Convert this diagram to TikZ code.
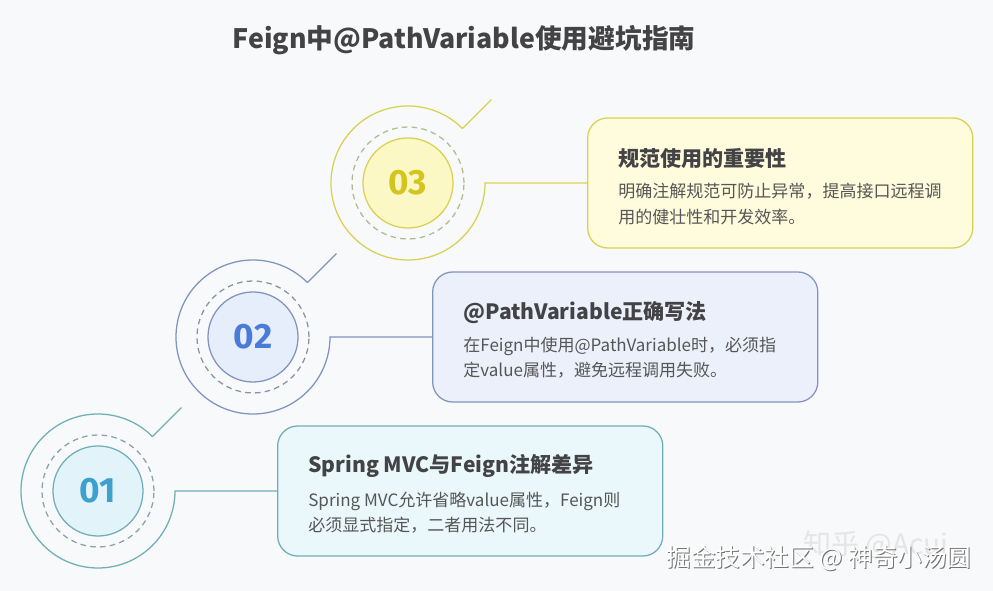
\documentclass[tikz,border=0pt]{standalone}
\usepackage{fontspec}
\setmainfont{Noto Sans CJK SC}
\newfontfamily\digitfont{Fira Sans}
\usetikzlibrary{positioning}

\definecolor{pagebg}{HTML}{F8F9FB}
\definecolor{titlegray}{HTML}{434345}
\definecolor{textgray}{HTML}{565656}
\definecolor{ylwline}{HTML}{D8D250}
\definecolor{ylwfill}{HTML}{FEFCDC}
\definecolor{ylwdisc}{HTML}{FCF8C6}
\definecolor{ylwnum}{HTML}{D3C51E}
\definecolor{ylwdash}{HTML}{B6B98E}
\definecolor{bluline}{HTML}{8095BE}
\definecolor{blufill}{HTML}{EBF0FB}
\definecolor{bludisc}{HTML}{E6EDFB}
\definecolor{blunum}{HTML}{4A7BD8}
\definecolor{bludash}{HTML}{8A93A3}
\definecolor{tealline}{HTML}{70AFB6}
\definecolor{tealfill}{HTML}{EAF7FB}
\definecolor{tealdisc}{HTML}{E3F3FA}
\definecolor{tealnum}{HTML}{3EA0CF}
\definecolor{tealdash}{HTML}{8AA3A8}

\tikzset{
  ring/.style={draw=#1line, line width=0.9pt},
  dashring/.style={draw=#1dash, line width=0.9pt, dash pattern=on 4pt off 3pt},
  disc/.style={circle, draw=#1line, fill=#1disc, line width=0.9pt,
    minimum size=2.25cm, inner sep=0pt, text=#1num,
    font=\digitfont\bfseries\fontsize{25}{25}\selectfont},
  infobox/.style={draw=#1line, fill=#1fill, line width=0.9pt,
    rounded corners=0.5cm, minimum width=9.625cm, minimum height=3.25cm},
  boxtitle/.style={inner sep=0pt, text=titlegray,
    font=\bfseries\fontsize{15}{18}\selectfont},
  boxbody/.style={inner sep=0pt, text=textgray, align=left,
    font=\fontsize{12.1}{17.8}\selectfont},
}

\begin{document}
\begin{tikzpicture}[x=0.025cm,y=0.025cm]
  \fill[pagebg] (0,0) rectangle (993,591);
  \node[font=\bfseries\fontsize{19}{19}\selectfont, text=titlegray]
    (heading) at (464,551) {Feign中@PathVariable使用避坑指南};
  % one step per row: centre, colour, number, title, text
  \foreach \n/\x/\y/\c/\head/\body in {
    01/98/100/teal/{Spring MVC与Feign注解差异}/{Spring MVC允许省略value属性，Feign则\\必须显式指定，二者用法不同。},
    02/253/254/blu/{@PathVariable正确写法}/{在Feign中使用@PathVariable时，必须指\\定value属性，避免远程调用失败。},
    03/408/408/ylw/{规范使用的重要性}/{明确注解规范可防止异常，提高接口远程调\\用的健壮性和开发效率。}} {
    \coordinate (c\n) at (\x,\y);
    \coordinate (tip\n) at ([shift={(45:118)}]c\n);
    \node[infobox=\c, right=4.475cm of c\n] (box\n) {};
    \draw[ring=\c] ([shift={(45:77)}]c\n)
      arc[start angle=45, end angle=360, radius=77] -- (box\n.west);
    \draw[ring=\c] ([shift={(45:77)}]c\n) -- (tip\n);
    \draw[dashring=\c] (c\n) circle (56);
    \node[disc=\c] (num\n) at (c\n) {\n};
    \node[boxtitle, anchor=west] (head\n)
      at ([shift={(31,-41)}]box\n.north west) {\head};
    \node[boxbody, anchor=north west] (text\n)
      at ([shift={(31,-66)}]box\n.north west) {\body};
  }
  % watermarks
  \node[text=black!10, font=\fontsize{20}{20}\selectfont]
    (mark1) at (876,46) {知乎 @Acui};
  \node[text=black!55, font=\fontsize{17.5}{17.5}\selectfont]
    (mark2s) at (820,32) {掘金技术社区 @ 神奇小汤圆};
  \node[text=white, font=\fontsize{17.5}{17.5}\selectfont]
    (mark2) at (819,33) {掘金技术社区 @ 神奇小汤圆};
\end{tikzpicture}
\end{document}
